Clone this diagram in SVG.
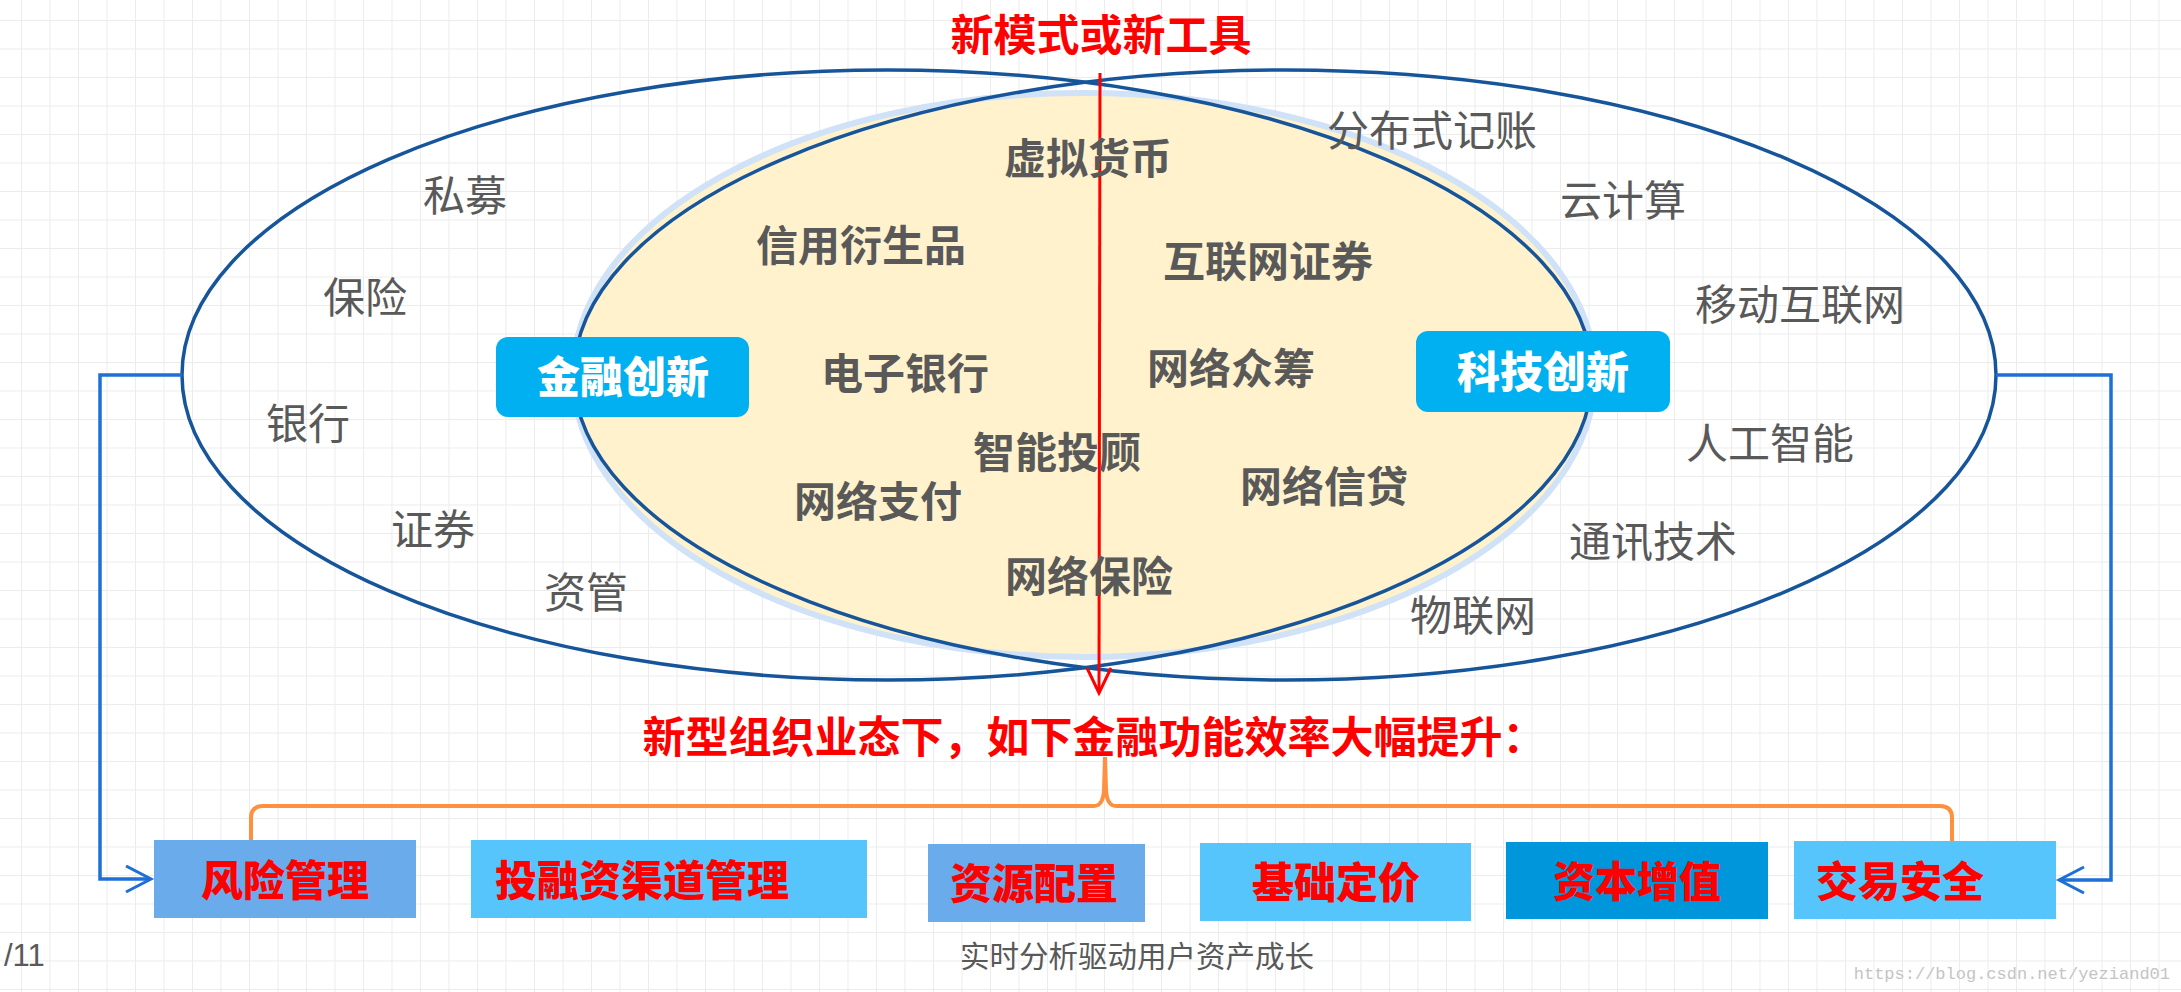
<svg xmlns="http://www.w3.org/2000/svg" width="2181" height="992" viewBox="0 0 2181 992">
<defs>
<pattern id="grid" x="21" y="20" width="28.5" height="28.5" patternUnits="userSpaceOnUse">
<path d="M0 0H28.5M0 0V28.5" fill="none" stroke="#ececec" stroke-width="2"/>
</pattern>
<marker id="arrRed" markerWidth="30" markerHeight="30" refX="26" refY="13" orient="auto" markerUnits="userSpaceOnUse">
<path d="M1 1 L26 13 L1 25" fill="none" stroke="#ff0000" stroke-width="3"/>
</marker>
<marker id="arrBlue" markerWidth="30" markerHeight="30" refX="26" refY="14" orient="auto" markerUnits="userSpaceOnUse">
<path d="M1 1 L26 14 L1 27" fill="none" stroke="#1e6fd6" stroke-width="3"/>
</marker>
</defs>
<style>
.cjk{font-family:"Noto Sans CJK SC","Microsoft YaHei",sans-serif;text-anchor:middle}
.outer{font-size:42px;fill:#595959;font-weight:400}
.inner{font-size:42px;fill:#595959;font-weight:700}
.pill{font-size:43px;fill:#ffffff;font-weight:900}
.red{font-size:43px;fill:#ff0000;font-weight:700}
.box{font-size:42px;fill:#ff0000;font-weight:900}
.big{fill:none;stroke:#17559b;stroke-width:3.5}
.conn{fill:none;stroke:#1e6fd6;stroke-width:3.5}
</style>
<rect width="2181" height="992" fill="#ffffff"/>
<rect width="2181" height="992" fill="url(#grid)"/>

<g id="core">
<ellipse cx="1084" cy="375" rx="511" ry="282" fill="#fff2cc" stroke="#cfe2f7" stroke-width="6"/>
</g>
<g id="finance-ellipse">
<ellipse class="big" cx="887" cy="375" rx="705" ry="305"/>
</g>
<g id="tech-ellipse">
<ellipse class="big" cx="1285" cy="375" rx="711" ry="305"/>
</g>

<g id="connectors">
<path d="M1100 73 L1099 693" fill="none" stroke="#ff0000" stroke-width="3" marker-end="url(#arrRed)"/>
<path class="conn" d="M182 375 H100 V879 H151" marker-end="url(#arrBlue)"/>
<path class="conn" d="M1996 375 H2111 V880 H2059" marker-end="url(#arrBlue)"/>
<path d="M251 841 V818 Q251 806 263 806 H1094 Q1103 806 1104 790 L1105 757 L1106 790 Q1107 806 1116 806 H1940 Q1952 806 1952 818 V841" fill="none" stroke="#ff9040" stroke-width="4"/>
</g>

<g id="title"><text class="cjk red" x="1101" y="51">新模式或新工具</text></g>
<g id="subtitle"><text class="cjk red" x="1094" y="753">新型组织业态下，如下金融功能效率大幅提升：</text></g>

<g id="finance-labels">
<text class="cjk outer" x="465" y="211">私募</text>
<text class="cjk outer" x="365" y="313">保险</text>
<text class="cjk outer" x="308" y="439">银行</text>
<text class="cjk outer" x="433" y="545">证券</text>
<text class="cjk outer" x="586" y="608">资管</text>
</g>
<g id="tech-labels">
<text class="cjk outer" x="1432" y="146">分布式记账</text>
<text class="cjk outer" x="1623" y="216">云计算</text>
<text class="cjk outer" x="1800" y="320">移动互联网</text>
<text class="cjk outer" x="1770" y="459">人工智能</text>
<text class="cjk outer" x="1653" y="557">通讯技术</text>
<text class="cjk outer" x="1473" y="631">物联网</text>
</g>
<g id="core-labels">
<text class="cjk inner" x="1088" y="174">虚拟货币</text>
<text class="cjk inner" x="861" y="261">信用衍生品</text>
<text class="cjk inner" x="1268" y="277">互联网证券</text>
<text class="cjk inner" x="905" y="389">电子银行</text>
<text class="cjk inner" x="1231" y="384">网络众筹</text>
<text class="cjk inner" x="1057" y="468">智能投顾</text>
<text class="cjk inner" x="878" y="517">网络支付</text>
<text class="cjk inner" x="1324" y="502">网络信贷</text>
<text class="cjk inner" x="1089" y="592">网络保险</text>
</g>

<g id="pill-finance">
<rect x="496" y="337" width="253" height="80" rx="12" fill="#00b0f0"/>
<text class="cjk pill" x="623" y="393">金融创新</text>
</g>
<g id="pill-tech">
<rect x="1416" y="331" width="254" height="81" rx="12" fill="#00b0f0"/>
<text class="cjk pill" x="1543" y="388">科技创新</text>
</g>

<g id="box-risk">
<rect x="154" y="840" width="262" height="78" fill="#6aabeb"/>
<text class="cjk box" x="285" y="896">风险管理</text>
</g>
<g id="box-channel">
<rect x="471" y="840" width="396" height="78" fill="#55c5fb"/>
<text class="cjk box" x="642" y="896">投融资渠道管理</text>
</g>
<g id="box-resource">
<rect x="928" y="844" width="217" height="78" fill="#6aabeb"/>
<text class="cjk box" x="1034" y="899">资源配置</text>
</g>
<g id="box-pricing">
<rect x="1200" y="843" width="271" height="78" fill="#55c5fb"/>
<text class="cjk box" x="1336" y="898">基础定价</text>
</g>
<g id="box-capital">
<rect x="1506" y="842" width="262" height="77" fill="#0096dc"/>
<text class="cjk box" x="1637" y="897">资本增值</text>
</g>
<g id="box-security">
<rect x="1794" y="841" width="262" height="78" fill="#55c5fb"/>
<text class="cjk box" x="1900" y="897">交易安全</text>
</g>

<g id="footer">
<text x="4" y="966" font-family="Liberation Sans, sans-serif" font-size="31" fill="#595959">/11</text>
<text class="cjk" x="1137" y="967" font-size="29.5" fill="#595959">实时分析驱动用户资产成长</text>
<text x="2170" y="979" font-family="Liberation Mono, monospace" font-size="17" fill="#c4c4c4" text-anchor="end">https://blog.csdn.net/yeziand01</text>
</g>
</svg>
